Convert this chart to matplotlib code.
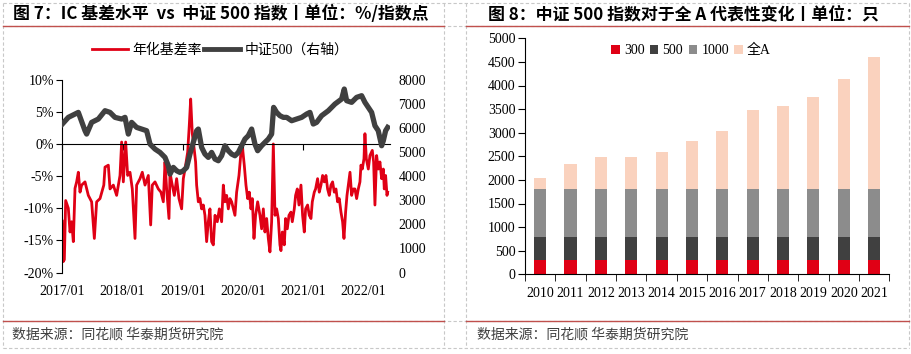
import matplotlib
matplotlib.use("Agg")
import matplotlib.pyplot as plt
from matplotlib.lines import Line2D
from matplotlib.font_manager import FontProperties
import numpy as np

# === Fig 7: IC annualised basis (%) vs CSI 500 index (right axis) ===
# time in decimal years
basis_t = [2017.000, 2017.017, 2017.034, 2017.056, 2017.100, 2017.128, 2017.155, 2017.183,
           2017.211, 2017.238, 2017.266, 2017.294, 2017.321, 2017.377, 2017.432, 2017.487,
           2017.532, 2017.570, 2017.626, 2017.689, 2017.709, 2017.764, 2017.792, 2017.847,
           2017.902, 2017.958, 2017.985, 2018.013, 2018.052, 2018.085, 2018.124, 2018.162,
           2018.207, 2018.234, 2018.290, 2018.328, 2018.373, 2018.428, 2018.467, 2018.494,
           2018.539, 2018.594, 2018.638, 2018.677, 2018.705, 2018.732, 2018.771, 2018.788,
           2018.815, 2018.860, 2018.898, 2018.937, 2018.981, 2019.009, 2019.037, 2019.081,
           2019.108, 2019.131, 2019.158, 2019.186, 2019.213, 2019.230, 2019.258, 2019.285,
           2019.313, 2019.341, 2019.368, 2019.396, 2019.424, 2019.451, 2019.479, 2019.507,
           2019.535, 2019.573, 2019.607, 2019.645, 2019.673, 2019.700, 2019.728, 2019.756,
           2019.783, 2019.811, 2019.866, 2019.894, 2019.933, 2019.966, 2019.994, 2020.021,
           2020.049, 2020.077, 2020.104, 2020.132, 2020.154, 2020.182, 2020.209, 2020.243,
           2020.281, 2020.309, 2020.337, 2020.364, 2020.392, 2020.420, 2020.447, 2020.475,
           2020.503, 2020.531, 2020.558, 2020.586, 2020.613, 2020.630, 2020.652, 2020.685,
           2020.707, 2020.735, 2020.763, 2020.796, 2020.818, 2020.851, 2020.873, 2020.901,
           2020.929, 2020.962, 2020.989, 2021.017, 2021.039, 2021.072, 2021.100, 2021.128,
           2021.150, 2021.183, 2021.205, 2021.238, 2021.266, 2021.294, 2021.321, 2021.349,
           2021.377, 2021.404, 2021.432, 2021.460, 2021.487, 2021.515, 2021.543, 2021.570,
           2021.598, 2021.626, 2021.653, 2021.676, 2021.703, 2021.726, 2021.748, 2021.776,
           2021.803, 2021.831, 2021.858, 2021.886, 2021.914, 2021.941, 2021.958, 2021.980,
           2022.008, 2022.024, 2022.047, 2022.080, 2022.107, 2022.146, 2022.168, 2022.190,
           2022.218, 2022.245, 2022.273, 2022.301, 2022.329, 2022.345, 2022.367, 2022.390,
           2022.401]
basis_pct = [-12.0, -18.3, -18.0, -8.8, -10.0, -13.7, -12.1, -15.2,
             -6.9, -5.9, -4.4, -7.5, -6.4, -5.9, -8.0, -9.0,
             -14.7, -9.0, -8.5, -6.4, -3.6, -3.3, -7.0, -6.4,
             -8.0, -4.9, 0.3, -5.9, 0.3, -4.9, -4.4, -7.0,
             -14.7, -6.4, -5.4, -4.4, -6.4, -4.9, -12.6, -6.4,
             -5.9, -7.0, -7.5, -9.0, -2.8, -7.0, -11.6, -4.4,
             -5.9, -8.0, -5.4, -8.5, -10.1, -5.4, -3.9, -1.3,
             2.9, 7.0, 1.6, -0.5, -2.8, -6.4, -9.0, -8.5,
             -10.1, -9.5, -11.1, -15.2, -12.1, -10.1, -15.2, -15.7,
             -11.1, -12.1, -10.1, -12.1, -6.4, -9.0, -8.0, -10.1,
             -8.5, -9.0, -11.1, -7.5, -4.9, -1.3, -0.8, -3.3,
             -6.4, -8.5, -7.5, -10.1, -8.5, -14.7, -11.1, -9.0,
             -11.1, -13.2, -10.1, -13.7, -11.6, -14.7, -16.8, -12.1,
             0.0, -11.1, -10.1, -11.6, -15.7, -16.6, -13.7, -15.7,
             -11.6, -13.2, -11.1, -10.6, -12.1, -10.1, -8.0, -7.0,
             -9.5, -6.4, -11.1, -13.7, -10.1, -9.5, -11.1, -11.6,
             -9.0, -7.5, -7.0, -5.4, -7.5, -6.4, -4.9, -5.9,
             -4.9, -7.0, -8.0, -6.4, -5.9, -7.5, -7.0, -9.0,
             -8.5, -10.6, -12.1, -14.7, -10.6, -8.0, -6.4, -4.4,
             -8.0, -7.0, -7.0, -8.5, -7.0, -5.9, -3.3, -3.9,
             -2.3, 1.6, -2.3, -3.9, -1.8, -1.0, -2.8, -9.5,
             -1.8, -3.9, -2.8, -5.4, -3.9, -7.0, -4.9, -8.0,
             -7.5]

csi500_t = [2017.000, 2017.100, 2017.211, 2017.266, 2017.377, 2017.404, 2017.487, 2017.598,
            2017.709, 2017.792, 2017.875, 2017.985, 2018.041, 2018.096, 2018.151, 2018.234,
            2018.317, 2018.400, 2018.456, 2018.539, 2018.622, 2018.705, 2018.760, 2018.788,
            2018.843, 2018.898, 2018.953, 2019.009, 2019.064, 2019.119, 2019.175, 2019.230,
            2019.258, 2019.313, 2019.368, 2019.424, 2019.479, 2019.535, 2019.590, 2019.645,
            2019.700, 2019.756, 2019.811, 2019.866, 2019.922, 2019.977, 2020.032, 2020.087,
            2020.143, 2020.198, 2020.243, 2020.309, 2020.364, 2020.420, 2020.475, 2020.508,
            2020.558, 2020.613, 2020.669, 2020.725, 2020.807, 2020.890, 2020.973, 2021.056,
            2021.111, 2021.166, 2021.222, 2021.305, 2021.416, 2021.526, 2021.637, 2021.681,
            2021.720, 2021.803, 2021.886, 2021.969, 2022.024, 2022.135, 2022.190, 2022.245,
            2022.301, 2022.329, 2022.367, 2022.401]
csi500_val = [6160, 6437, 6575, 6644, 5883, 5744, 6229, 6368,
              6713, 6644, 6437, 6368, 6437, 5744, 6229, 6021,
              5952, 5883, 5329, 5122, 4983, 4776, 4430, 4084,
              4361, 4222, 4153, 4222, 4361, 4914, 5399, 5883,
              5952, 5191, 4914, 4776, 4983, 4706, 4637, 4845,
              5260, 5053, 4914, 4845, 4983, 5260, 5537, 5675,
              5952, 5329, 5053, 5260, 5399, 5537, 5744, 6851,
              6644, 6506, 6437, 6437, 6298, 6368, 6437, 6575,
              6644, 6160, 6229, 6506, 6713, 6990, 7198, 7613,
              7129, 7060, 7267, 7336, 7060, 6644, 6090, 5883,
              5260, 5468, 5883, 6021]

year_ticks = [2017, 2018, 2019, 2020, 2021, 2022]
year_labels = ['2017/01', '2018/01', '2019/01', '2020/01', '2021/01', '2022/01']

# === Fig 8: CSI 500 representativeness vs all A shares (stocks) ===
bar_years = ['2010', '2011', '2012', '2013', '2014', '2015',
             '2016', '2017', '2018', '2019', '2020', '2021']
n300 = [300, 300, 300, 300, 300, 300, 300, 300, 300, 300, 300, 300]
n500 = [500, 500, 500, 500, 500, 500, 500, 500, 500, 500, 500, 500]
n1000 = [1000, 1000, 1000, 1000, 1000, 1000, 1000, 1000, 1000, 1000, 1000, 1000]
all_a = [2040, 2340, 2490, 2490, 2600, 2830, 3040, 3480, 3570, 3760, 4140, 4610]

plt.rcParams['font.family'] = ['Liberation Serif', 'Noto Sans CJK SC']
plt.rcParams['axes.unicode_minus'] = False

W, H = 912, 354
fig = plt.figure(figsize=(W / 100, H / 100), dpi=100)

def px_line(x0, x1, y0, y1, **kw):
    fig.add_artist(Line2D([x0 / W, x1 / W], [1 - y0 / H, 1 - y1 / H],
                          transform=fig.transFigure, **kw))

# table-like frame around the two panels
dash = dict(color='#c8c8c8', lw=0.8, ls=(0, (3, 2)))
for yy in [3, 25.7, 321, 348]:
    px_line(3, 909, yy, yy, **dash)
for xx in [3, 444, 466, 909]:
    px_line(xx, xx, 3, 348, **dash)
for yy in [25.7, 321]:
    px_line(3, 444, yy, yy, color='#c0504d', lw=1)
    px_line(466, 909, yy, yy, color='#c0504d', lw=1)

cjk = ['Noto Sans CJK SC']
fig.text(13 / W, 1 - 14 / H, '图 7：IC 基差水平  vs  中证 500 指数丨单位：%/指数点',
         fontsize=12.2, fontweight='bold', family=cjk, va='center', ha='left')
fig.text(488 / W, 1 - 14 / H, '图 8：中证 500 指数对于全 A 代表性变化丨单位：只',
         fontsize=12.2, fontweight='bold', family=cjk, va='center', ha='left')
for x0 in [12, 477]:
    fig.text(x0 / W, 1 - 335 / H, '数据来源：同花顺 华泰期货研究院',
             fontsize=10, color='#404040', family=cjk, va='center', ha='left')

red = '#e00015'
dark = '#404040'

# --- left panel ---
ax1 = fig.add_axes([62.3 / W, 1 - 272.5 / H, (390 - 62.3) / W, (272.5 - 79.7) / H])
ax1.plot(basis_t, basis_pct, color=red, lw=2.0, solid_joinstyle='round')
ax1.set_xlim(2017.0, 2022.44)
ax1.set_ylim(-20, 10)
ax1.set_yticks(np.arange(-20, 11, 5))
ax1.set_yticklabels([f'{v}%' for v in range(-20, 11, 5)])
ax1.spines['top'].set_visible(False)
ax1.spines['right'].set_visible(False)
ax1.spines['bottom'].set_position(('data', 0))
ax1.set_xticks(year_ticks)
ax1.tick_params(axis='x', length=4, labelbottom=False)
ax1.tick_params(axis='y', length=4, pad=2, labelsize=10)
sec = ax1.secondary_xaxis(0.0)
sec.set_xticks(year_ticks, labels=year_labels)
sec.tick_params(length=0, pad=9, labelsize=10)
sec.spines['bottom'].set_visible(False)

ax2 = ax1.twinx()
ax2.plot(csi500_t, csi500_val, color=dark, lw=3.8, solid_joinstyle='round')
ax2.set_ylim(0, 8000)
ax2.set_yticks(np.arange(0, 8001, 1000))
for s in ax2.spines.values():
    s.set_visible(False)
ax2.tick_params(axis='y', length=0, pad=6, labelsize=10)

leg_font = FontProperties(family=['Liberation Serif', 'Noto Sans CJK SC'], size=10)
fig.legend([Line2D([], [], color=red, lw=2), Line2D([], [], color=dark, lw=3.5)],
           ['年化基差率', '中证500（右轴）'], loc='center',
           bbox_to_anchor=(220 / W, 1 - 50 / H), ncol=2, frameon=False, prop=leg_font,
           handlelength=2.6, handletextpad=0.3, columnspacing=0.2)

# --- right panel ---
ax3 = fig.add_axes([525 / W, 1 - 274.3 / H, (889.3 - 525) / W, (274.3 - 38.3) / H])
x = np.arange(len(bar_years))
base1 = np.array(n300)
base2 = base1 + np.array(n500)
base3 = base2 + np.array(n1000)
ax3.bar(x, n300, width=0.4, color='#e00015', label='300')
ax3.bar(x, n500, width=0.4, bottom=base1, color='#404040', label='500')
ax3.bar(x, n1000, width=0.4, bottom=base2, color='#8c8c8c', label='1000')
ax3.bar(x, np.array(all_a) - base3, width=0.4, bottom=base3, color='#fad2be', label='全A')
ax3.set_xlim(-0.5, len(bar_years) - 0.5)
ax3.set_ylim(0, 5000)
ax3.set_yticks(np.arange(0, 5001, 500))
ax3.set_xticks(x)
ax3.set_xticklabels(bar_years)
ax3.set_xticks(np.arange(-0.5, len(bar_years), 1), minor=True)
ax3.tick_params(axis='x', which='major', length=0, pad=9, labelsize=10)
ax3.tick_params(axis='x', which='minor', length=5)
ax3.tick_params(axis='y', length=5, pad=2, labelsize=10)
ax3.spines['top'].set_visible(False)
ax3.spines['right'].set_visible(False)
ax3.legend(loc='center', bbox_to_anchor=(0.456, 0.947), ncol=4, frameon=False,
           prop=leg_font, handlelength=0.6, handleheight=0.6,
           handletextpad=0.3, columnspacing=0.4)

fig.savefig('out.png', dpi=100)
